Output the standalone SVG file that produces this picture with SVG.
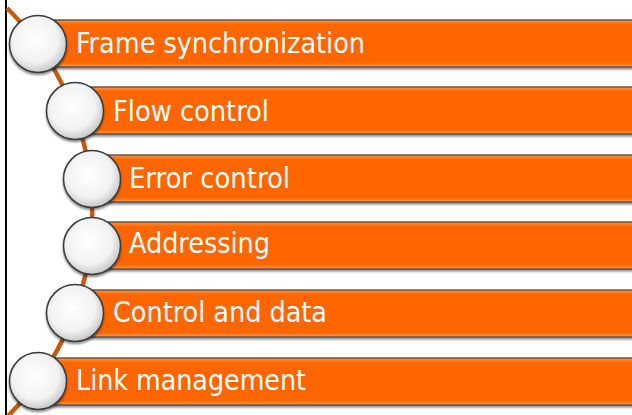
<svg xmlns="http://www.w3.org/2000/svg" width="632" height="415" viewBox="0 0 632 415">
<defs>
<linearGradient id="barG" x1="0" y1="0" x2="0" y2="1">
<stop offset="0" stop-color="#FF9A55"/>
<stop offset="0.09" stop-color="#FF6600"/>
<stop offset="0.91" stop-color="#FF6600"/>
<stop offset="1" stop-color="#FF9A55"/>
</linearGradient>
<radialGradient id="circG" cx="0.45" cy="0.42" r="0.62">
<stop offset="0" stop-color="#FFFFFF"/>
<stop offset="0.65" stop-color="#F2F2F2"/>
<stop offset="1" stop-color="#BEBEBE"/>
</radialGradient>
<filter id="sh" x="-5%" y="-20%" width="110%" height="150%">
<feGaussianBlur in="SourceAlpha" stdDeviation="1.2"/>
<feOffset dx="0" dy="2" result="b"/>
<feComponentTransfer><feFuncA type="linear" slope="0.45"/></feComponentTransfer>
<feMerge><feMergeNode/><feMergeNode in="SourceGraphic"/></feMerge>
</filter>
</defs>
<style>
.bar{fill:url(#barG);stroke:#3C3C3C;stroke-width:1.2;filter:url(#sh)}
.circ{fill:url(#circG);stroke:#3A3A3A;stroke-width:1.5;filter:url(#sh)}
.lbl{fill:#FFFFFF;font-family:"DejaVu Sans Condensed","DejaVu Sans",sans-serif;font-size:28px}
.conn{fill:none;stroke:#C55A11;stroke-width:4.5}
</style>
<rect x="0" y="0" width="632" height="415" fill="#FFFFFF"/>
<line x1="6" y1="0" x2="6" y2="415" stroke="#000000" stroke-width="2"/>
<g id="connectors">
<path class="conn" d="M 7 8 A 288 288 0 0 1 8 416"/>
</g>
<g id="node1">
<rect class="bar" x="38" y="20" width="600" height="47"/>
<circle class="circ" cx="38" cy="44" r="28.5"/>
<text class="lbl" x="76" y="53" textLength="289" lengthAdjust="spacingAndGlyphs">Frame synchronization</text>
</g>
<g id="node2">
<rect class="bar" x="75" y="87" width="563" height="47"/>
<circle class="circ" cx="75" cy="111" r="28.5"/>
<text class="lbl" x="113" y="121" textLength="156" lengthAdjust="spacingAndGlyphs">Flow control</text>
</g>
<g id="node3">
<rect class="bar" x="92" y="155" width="546" height="47"/>
<circle class="circ" cx="92" cy="179" r="28.5"/>
<text class="lbl" x="129" y="188" textLength="161" lengthAdjust="spacingAndGlyphs">Error control</text>
</g>
<g id="node4">
<rect class="bar" x="92" y="222" width="546" height="47"/>
<circle class="circ" cx="92" cy="246" r="28.5"/>
<text class="lbl" x="129" y="253" textLength="141" lengthAdjust="spacingAndGlyphs">Addressing</text>
</g>
<g id="node5">
<rect class="bar" x="75" y="290" width="563" height="47"/>
<circle class="circ" cx="75" cy="313" r="28.5"/>
<text class="lbl" x="113" y="322" textLength="214" lengthAdjust="spacingAndGlyphs">Control and data</text>
</g>
<g id="node6">
<rect class="bar" x="38" y="358" width="600" height="47"/>
<circle class="circ" cx="38" cy="381" r="28.5"/>
<text class="lbl" x="76" y="390" textLength="230" lengthAdjust="spacingAndGlyphs">Link management</text>
</g>
</svg>
